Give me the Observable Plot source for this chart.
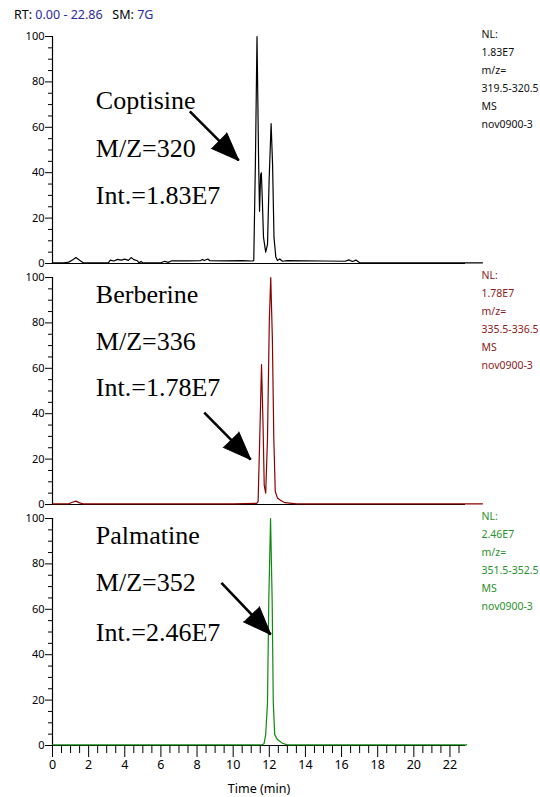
<!DOCTYPE html>
<html><head><meta charset="utf-8">
<script src="https://cdn.jsdelivr.net/npm/d3@7"></script>
<script src="https://cdn.jsdelivr.net/npm/@observablehq/plot@0.6"></script>
<style>
body{margin:0;background:#fff;}
#wrap{position:relative;width:540px;height:797px;overflow:hidden;background:#fff;font-family:"Liberation Sans Narrow","Noto Sans","Liberation Sans",sans-serif;font-stretch:condensed;}
#hdr{position:absolute;left:14px;top:6px;font-size:12.5px;color:#000;white-space:pre;}
#hdr .b{color:#2a2aa6;}
.p{position:absolute;left:0;}
</style></head><body>
<div id="wrap"><div id="hdr">RT: <span class="b">0.00 - 22.86</span>   SM: <span class="b">7G</span></div></div>
<script>
// ---- data (time in min, relative abundance in %) ----
const coptisine = [[0,0.3],[0.6,0.3],[0.9,0.6],[1.1,1.5],[1.3,2.6],[1.5,1.4],[1.7,0.3],[2.5,0.3],[3.1,0.4],[3.2,1.5],[3.4,1.1],[3.6,1.8],[3.8,1.5],[4.0,1.9],[4.2,1.4],[4.35,2.6],[4.5,1.7],[4.7,1.2],[4.8,0.2],[4.9,0.9],[5.0,0.3],[5.3,0.3],[6.0,0.3],[6.2,1.0],[6.4,0.5],[6.6,1.2],[6.7,1.2],[7.5,1.2],[8.2,1.3],[8.3,1.8],[8.4,1.3],[8.6,2.0],[8.7,1.3],[9.5,1.2],[10.5,1.3],[11.05,1.1],[11.14,1.3],[11.23,44],[11.32,100],[11.41,44],[11.46,23],[11.52,39],[11.56,40],[11.61,29],[11.68,11.5],[11.80,5],[11.90,8.4],[11.99,36.6],[12.10,61.6],[12.18,44],[12.26,11.5],[12.36,2.9],[12.45,1.3],[12.58,2.0],[12.73,1.0],[13.0,1.3],[14.0,1.2],[15.0,1.1],[16.2,1.0],[16.4,1.6],[16.6,0.9],[16.8,1.5],[17.0,0.3],[18.0,0.3],[20.0,0.3],[22.0,0.3],[23.8,0.3]];
const berberine = [[0,0.3],[0.9,0.3],[1.1,1.0],[1.3,1.5],[1.5,0.7],[1.7,0.3],[5,0.3],[10,0.3],[11.3,0.5],[11.38,1.3],[11.47,29],[11.57,61.6],[11.65,36.6],[11.72,8.4],[11.80,5],[11.90,29],[12.00,80.6],[12.08,100],[12.17,73],[12.25,29],[12.33,5.7],[12.45,2.9],[12.6,2.0],[12.73,1.3],[12.87,0.8],[13.5,0.3],[23.8,0.3]];
const palmatine = [[0,0.3],[11.6,0.3],[11.71,0.8],[11.80,4.8],[11.90,19],[11.97,63],[12.07,100],[12.16,63],[12.22,19],[12.30,4.8],[12.45,2.6],[12.73,1.0],[13.0,0.3],[22.93,0.3]];

const compounds = ["Coptisine", "Berberine", "Palmatine"];
const mzLabels = ["M/Z=320", "M/Z=336", "M/Z=352"];
const intLabels = ["Int.=1.83E7", "Int.=1.78E7", "Int.=2.46E7"];
const nlValues = ["1.83E7", "1.78E7", "2.46E7"];
const mzRanges = ["319.5-320.5", "335.5-336.5", "351.5-352.5"];
const fileName = "nov0900-3";
// annotation anchor (time, % for each of the three text lines)
const annotTime = [2.4, 2.4, 2.4];
const annotLevels = [[71.8, 50.7, 30.0], [92.5, 71.8, 51.5], [92.6, 71.8, 49.8]];
// arrows: [tailTime, tail%, tipTime, tip%]
const arrows = [[7.6, 67.0, 10.31, 45.4], [8.4, 40.5, 10.97, 19.8], [9.35, 71.6, 12.08, 48.9]];
const yMajor = [0, 20, 40, 60, 80, 100];
const yMinor = d3.range(0, 101, 5).filter(v => v % 20 !== 0);
const xMajor = d3.range(0, 23, 2);
const xMinor = d3.range(0, 22.9, 0.5).filter(v => v % 2 !== 0);
const traces = [coptisine, berberine, palmatine];
const lineColors = ["#000000", "#8b0000", "#0f8a0f"];
const infoColors = ["#111111", "#8b1a1a", "#2a922a"];

const narrow = '"Liberation Sans Narrow","Noto Sans","Liberation Sans",sans-serif';
const serif = '"Liberation Serif","Times New Roman",serif';
const W = 540, ML = 52, MR = 75, MT = 20, INNER = 227;
const tops = [16, 257, 498];
const xDomain = [0, 22.86];
const kx = (W - ML - MR) / (xDomain[1] - xDomain[0]);
const ky = INNER / 100;

const wrap = document.getElementById("wrap");
traces.forEach((trace, i) => {
  const last = i === 2;
  const MB = last ? 52 : 7;
  const H = MT + INNER + MB;
  const texts = [compounds[i], mzLabels[i], intLabels[i]].map((t, k) => ({t, x: annotTime[i], y: annotLevels[i][k]}));
  const a = arrows[i];
  const arr = [{x1: a[0], y1: a[1], x2: a[2], y2: a[3],
    rot: Math.atan2((a[2] - a[0]) * kx, (a[3] - a[1]) * ky) * 180 / Math.PI}];
  const info = ["NL:", nlValues[i], "m/z=", mzRanges[i], "MS", fileName].join("\n");
  const marks = [
    Plot.ruleX([0], {stroke: "#000", strokeWidth: 1.2}),
    Plot.ruleY([0], {stroke: "#000", strokeWidth: 1.2}),
    Plot.axisY({ticks: yMajor, tickSize: 7, tickPadding: 1, fontSize: 11, tickFormat: d => d}),
    Plot.axisY({ticks: yMinor, tickSize: 4, text: null}),
    Plot.line(trace, {x: d => d[0], y: d => d[1], stroke: lineColors[i], strokeWidth: 1.2}),
    Plot.text(texts, {x: "x", y: "y", text: "t", textAnchor: "start", lineAnchor: "middle", fontFamily: serif, fontSize: 26, fill: "#000"}),
    Plot.link(arr, {x1: "x1", y1: "y1", x2: "x2", y2: "y2", stroke: "#000", strokeWidth: 2.6}),
    Plot.vector(arr, {x: "x2", y: "y2", rotate: "rot", length: 28, r: 11, shape: "spike", anchor: "end", fill: "#000", stroke: "#000", strokeWidth: 1}),
    Plot.text([info], {frameAnchor: "top-right", dx: 16, dy: -11.5, textAnchor: "start", lineAnchor: "top", lineHeight: 1.72, fontSize: 10.5, fill: infoColors[i], fontFamily: narrow})
  ];
  if (last) {
    marks.push(Plot.axisX({ticks: xMajor, tickSize: 12, tickPadding: 3, fontSize: 12.5, tickFormat: d => d}));
    marks.push(Plot.axisX({ticks: xMinor, tickSize: 8, text: null}));
    marks.push(Plot.text(["Time (min)"], {frameAnchor: "bottom", dy: 43, lineAnchor: "middle", fontSize: 12.5, fontFamily: narrow, fill: "#000"}));
  }
  const svg = Plot.plot({
    width: W, height: H, marginLeft: ML, marginRight: MR, marginTop: MT, marginBottom: MB,
    x: {domain: xDomain, axis: null},
    y: {domain: [0, 100], axis: null},
    style: {background: "transparent", overflow: "visible", fontFamily: narrow, fontSize: "12px", fontStretch: "condensed", color: "#000"},
    marks
  });
  const div = document.createElement("div");
  div.className = "p";
  div.style.top = tops[i] + "px";
  div.appendChild(svg);
  wrap.appendChild(div);
});
</script>
</body></html>
